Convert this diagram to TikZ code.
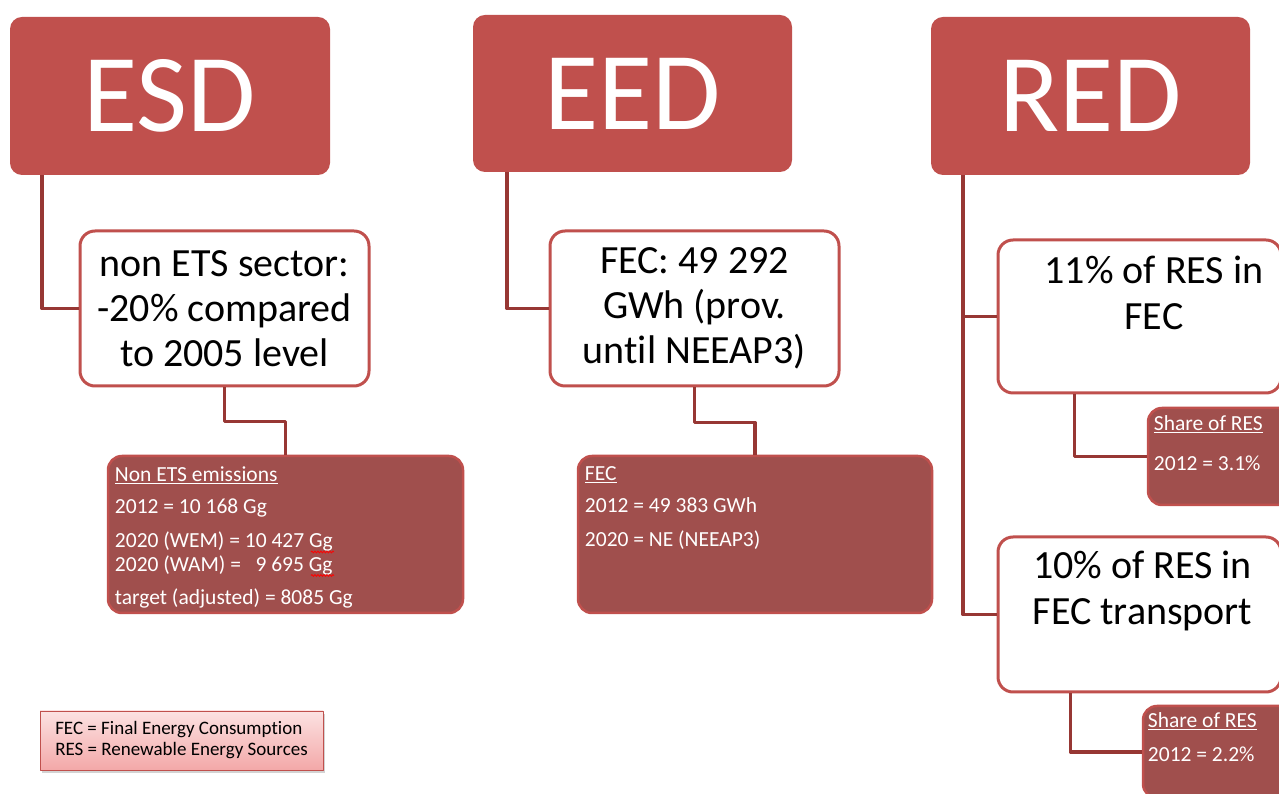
\documentclass[tikz,border=0pt]{standalone}
\usepackage{fontspec}
\setmainfont{Carlito}[Ligatures=NoCommon]
\usepackage{tikz}
\usetikzlibrary{shapes,arrows,backgrounds,%
decorations.pathmorphing,positioning,fit,calc,shadows%
}
\definecolor{hdrred}{HTML}{C0504D}
\definecolor{linkred}{HTML}{973734}
\definecolor{datared}{HTML}{A04F4D}
\definecolor{notetop}{HTML}{FCE2E2}
\definecolor{notebot}{HTML}{F3A8A8}

\begin{document}
\begin{tikzpicture}[line join=round,
  hdr/.style={fill=hdrred,rounded corners=12bp,text=white,inner sep=0pt,
    font=\fontsize{111bp}{120bp}\selectfont},
  goalbox/.style={draw=hdrred,line width=3bp,fill=white,rounded corners=15bp,
    align=center,inner sep=0pt,font=\fontsize{40bp}{45bp}\selectfont},
  goaltext/.style={align=center,inner sep=0pt,font=\fontsize{40bp}{46bp}\selectfont},
  databox/.style={draw=hdrred,line width=2.5bp,fill=datared,rounded corners=14bp,inner sep=0pt},
  datatext/.style={anchor=north west,inner sep=0pt,align=left,text=white,
    font=\fontsize{21.5bp}{24bp}\selectfont},
  link/.style={draw=linkred,line width=3.5bp},
  spell/.style={draw=red,line width=0.8bp,decorate,
    decoration={snake,amplitude=1bp,segment length=3bp}},
  notebox/.style={draw=hdrred,line width=0.8bp,top color=notetop,bottom color=notebot,
    align=left,inner sep=0pt,font=\fontsize{19bp}{21bp}\selectfont,
    drop shadow={opacity=0.35,shadow xshift=2bp,shadow yshift=-3bp}},
]
\useasboundingbox (0,0) rectangle (1279bp,794bp);
\clip (0,0) rectangle (1279bp,794bp);
%% directives
\node (esd) at (170bp,698bp) [hdr,minimum width=320bp,minimum height=158bp] {ESD};
\node (eed) at (632.5bp,700.5bp) [hdr,minimum width=319bp,minimum height=157bp] {EED};
\node (red) at (1090.5bp,698bp) [hdr,minimum width=319bp,minimum height=158bp] {RED};
%% targets
\node (esdgoal) at (224.5bp,485.5bp) [goalbox,minimum width=289bp,minimum height=155bp]
  {non ETS sector:\\-20\% compared\\to 2005 level};
\node (eedgoal) at (694.5bp,485.5bp) [goalbox,minimum width=289bp,minimum height=155bp]
  {FEC: 49 292\\GWh (prov.\\until NEEAP3)};
\node (redgoal1) at (1139.5bp,477.5bp) [goalbox,minimum width=283bp,minimum height=153bp] {};
\node (redgoal1txt) at (1154bp,501bp) [goaltext] {11\% of RES in\\FEC};
\node (redgoal2) at (1139.5bp,179.5bp) [goalbox,minimum width=283bp,minimum height=155bp] {};
\node (redgoal2txt) at (1142.5bp,203.5bp) [goaltext] {10\% of RES in\\FEC transport};
%% figures
\node (esddata) at (285.5bp,259.5bp) [databox,minimum width=355bp,minimum height=157bp] {};
\node (esddatatxt) at ($(esddata.north west)+(8bp,-12bp)$) [datatext]
  {\underline{Non ETS emissions}\\[8bp]
   2012 = 10 168 Gg\\[10bp]
   2020 (WEM) = 10 427 Gg\\
   2020 (WAM) = \ \ 9 695 Gg\\[9bp]
   target (adjusted) = 8085 Gg};
\draw [spell] (311bp,242bp) -- (334bp,242bp);
\draw [spell] (311bp,218.5bp) -- (334bp,218.5bp);
\node (eeddata) at (755bp,259.5bp) [databox,minimum width=354bp,minimum height=157bp] {};
\node (eeddatatxt) at ($(eeddata.north west)+(8bp,-12bp)$) [datatext]
  {\underline{FEC}\\[8bp]
   2012 = 49 383 GWh\\[10bp]
   2020 = NE (NEEAP3)};
\node (reddata1) at (1224bp,337.5bp) [databox,minimum width=152bp,minimum height=97bp] {};
\node (reddata1txt) at ($(reddata1.north west)+(7bp,-9bp)$) [datatext]
  {\underline{Share of RES}\\[16bp]
   2012 = 3.1\%};
\node (reddata2) at (1221.5bp,42bp) [databox,minimum width=157bp,minimum height=92bp] {};
\node (reddata2txt) at ($(reddata2.north west)+(6bp,-8bp)$) [datatext]
  {\underline{Share of RES}\\[10bp]
   2012 = 2.2\%};
%% abbreviations
\node (note) at (181.5bp,53.5bp) [notebox,minimum width=283bp,minimum height=59bp]
  {FEC = Final Energy Consumption\\RES = Renewable Energy Sources};
%
\coordinate (redtrunk) at ($(red.south west)+(32bp,0)$);
\draw [link] ($(esd.south west)+(32bp,0)$) |- (esdgoal.west);
\draw [link] (esdgoal.south) -- ++(0,-34bp) -| (esddata.north);
\draw [link] ($(eed.south west)+(34bp,0)$) |- (eedgoal.west);
\draw [link] (eedgoal.south) -- ++(0,-35bp) -| (eeddata.north);
\draw [link] (redtrunk) |- (redgoal2.west);
\draw [link] (redgoal1.west) -- (redgoal1.west -| redtrunk);
\draw [link] ($(redgoal1.south west)+(78bp,0)$) |- (reddata1.west);
\draw [link] ($(redgoal2.south west)+(74bp,0)$) |- (reddata2.west);
%
\end{tikzpicture}
\end{document}
